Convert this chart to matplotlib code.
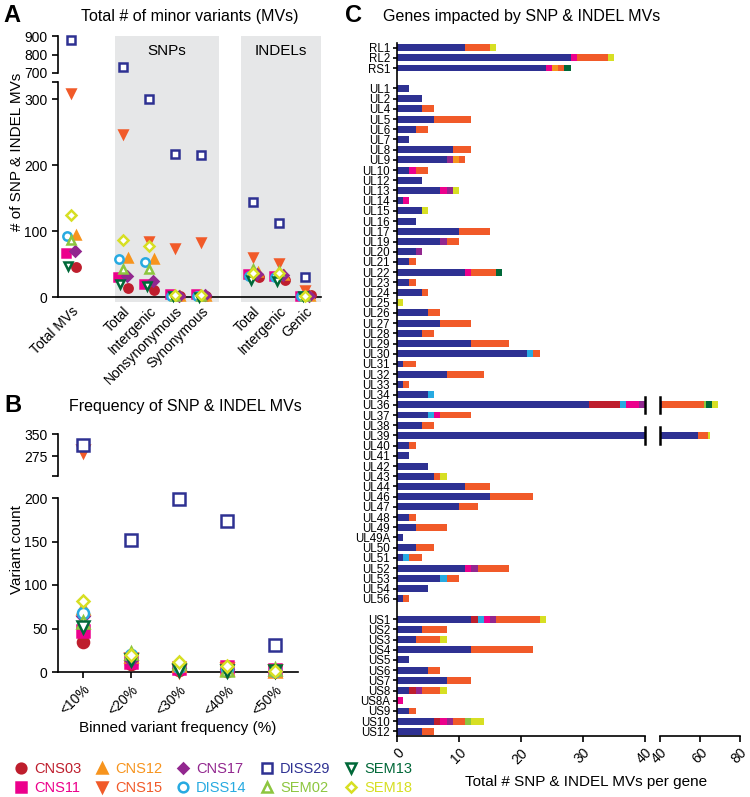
import numpy as np
import matplotlib
matplotlib.use('Agg')
import matplotlib.pyplot as plt
from matplotlib.lines import Line2D

plt.rcParams['font.family'] = ['Liberation Sans', 'DejaVu Sans']
plt.rcParams['axes.linewidth'] = 1.2
plt.rcParams['xtick.major.width'] = 1.2
plt.rcParams['ytick.major.width'] = 1.2

# ---------------- data ----------------
series = ['CNS03', 'CNS11', 'CNS12', 'CNS15', 'CNS17',
          'DISS14', 'DISS29', 'SEM02', 'SEM13', 'SEM18']

# panel A: total # of minor variants per category
a_labels = ['Total MVs', 'Total', 'Intergenic', 'Nonsynonymous', 'Synonymous',
            'Total', 'Intergenic', 'Genic']
a_vals = {
    'CNS03':  [45, 14, 10, 2, 2, 30, 26, 3],
    'CNS11':  [67, 30, 20, 4, 5, 35, 32, 2],
    'CNS12':  [94, 59, 58, 2, 1, 38, 34, 1],
    'CNS15':  [310, 247, 85, 74, 84, 61, 51, 11],
    'CNS17':  [70, 32, 25, 2, 3, 35, 33, 2],
    'DISS14': [92, 57, 53, 1, 1, 32, 30, 2],
    'DISS29': [880, 732, 300, 217, 216, 144, 112, 30],
    'SEM02':  [86, 42, 42, 2, 2, 42, 40, 1],
    'SEM13':  [47, 20, 16, 1, 0, 26, 24, 1],
    'SEM18':  [124, 86, 77, 3, 3, 36, 36, 2],
}

# panel B: variant count per binned frequency
b_bins = ['<10%', '<20%', '<30%', '<40%', '<50%']
b_vals = {
    'CNS03':  [34, 9, 2, 1, 1],
    'CNS11':  [47, 12, 5, 6, 2],
    'CNS12':  [74, 18, 8, 3, 1],
    'CNS15':  [292, 15, 1, 3, 1],
    'CNS17':  [64, 14, 5, 3, 1],
    'DISS14': [68, 20, 6, 3, 1],
    'DISS29': [312, 152, 199, 173, 31],
    'SEM02':  [58, 22, 10, 2, 3],
    'SEM13':  [52, 14, 2, 1, 1],
    'SEM18':  [82, 20, 11, 7, 1],
}

# panel C: MVs per gene
genes_rl = ['RL1', 'RL2', 'RS1']
genes_ul = ['UL1', 'UL2', 'UL4', 'UL5', 'UL6', 'UL7', 'UL8', 'UL9', 'UL10', 'UL12',
            'UL13', 'UL14', 'UL15', 'UL16', 'UL17', 'UL19', 'UL20', 'UL21', 'UL22', 'UL23',
            'UL24', 'UL25', 'UL26', 'UL27', 'UL28', 'UL29', 'UL30', 'UL31', 'UL32', 'UL33',
            'UL34', 'UL36', 'UL37', 'UL38', 'UL39', 'UL40', 'UL41', 'UL42', 'UL43', 'UL44',
            'UL46', 'UL47', 'UL48', 'UL49', 'UL49A', 'UL50', 'UL51', 'UL52', 'UL53', 'UL54',
            'UL56']
genes_us = ['US1', 'US2', 'US3', 'US4', 'US5', 'US6', 'US7', 'US8', 'US8A', 'US9',
            'US10', 'US12']
genes = genes_rl + genes_ul + genes_us

c_diss29 = [11, 28, 24,
            2, 4, 4, 6, 3, 2, 9, 8, 2, 4,
            7, 1, 4, 3, 10, 7, 3, 2, 11, 2,
            4, 0, 5, 7, 4, 12, 21, 1, 8, 1,
            5, 31, 5, 4, 59, 2, 2, 5, 6, 11,
            15, 10, 2, 3, 1, 3, 1, 11, 7, 5,
            1,
            12, 4, 3, 12, 2, 5, 8, 2, 0, 2, 6, 4]
c_cns15 = [4, 5, 1,
           0, 0, 2, 6, 2, 0, 3, 1, 2, 0,
           0, 0, 0, 0, 5, 2, 0, 1, 4, 1,
           1, 0, 2, 5, 2, 6, 1, 2, 6, 1,
           0, 21, 5, 2, 5, 1, 0, 0, 1, 4,
           7, 3, 1, 5, 0, 3, 2, 5, 2, 0,
           1,
           7, 4, 4, 10, 0, 2, 4, 3, 0, 1, 2, 2]
c_cns03 = {'UL36': 5, 'US1': 1, 'US8': 1, 'US10': 1}
c_diss14 = {'UL30': 1, 'UL34': 1, 'UL36': 1, 'UL37': 1, 'UL51': 1, 'UL53': 1, 'US1': 1}
c_cns11 = {'RL2': 1, 'RS1': 1, 'UL10': 1, 'UL13': 1, 'UL14': 1, 'UL22': 1, 'UL36': 2,
           'UL37': 1, 'UL52': 1, 'US1': 1, 'US8A': 1, 'US10': 1}
c_cns17 = {'UL9': 1, 'UL13': 1, 'UL19': 1, 'UL20': 1, 'UL36': 2, 'UL52': 1, 'US1': 1,
           'US8': 1, 'US10': 1}
c_cns12 = {'RS1': 1, 'UL9': 1}
c_sem02 = {'UL36': 1, 'US10': 1}
c_sem13 = {'RS1': 1, 'UL22': 1, 'UL36': 3}
c_sem18 = {'RL1': 1, 'RL2': 1, 'UL13': 1, 'UL15': 1, 'UL25': 1, 'UL36': 3, 'UL39': 1,
           'UL43': 1, 'US1': 1, 'US3': 1, 'US8': 1, 'US10': 2}

# ---------------- styles ----------------
colors = {'CNS03': '#BE1E2D', 'CNS11': '#EC008C', 'CNS12': '#F7941D', 'CNS15': '#F15A29',
          'CNS17': '#92278F', 'DISS14': '#27AAE1', 'DISS29': '#2E3192', 'SEM02': '#8DC63F',
          'SEM13': '#006838', 'SEM18': '#D7DF23'}
markers = {'CNS03': 'o', 'CNS11': 's', 'CNS12': '^', 'CNS15': 'v', 'CNS17': 'D',
           'DISS14': 'o', 'DISS29': 's', 'SEM02': '^', 'SEM13': 'v', 'SEM18': 'D'}
jitter = {'CNS03': 0.2, 'CNS11': -0.2, 'CNS12': 0.18, 'CNS15': 0.0, 'CNS17': 0.15,
          'DISS14': -0.15, 'DISS29': 0.0, 'SEM02': 0.0, 'SEM13': -0.1, 'SEM18': 0.0}


def mkw(s, ms):
    size = ms * 0.8 if markers[s] == 'D' else ms
    filled = s.startswith('CNS')
    return dict(marker=markers[s], ms=size, ls='none', mec=colors[s], mew=1.8,
                mfc=colors[s] if filled else 'white')


W, H = 750, 797
fig = plt.figure(figsize=(7.5, 7.97), dpi=100)


def box(x0, y0, x1, y1):
    return [x0 / W, 1 - y1 / H, (x1 - x0) / W, (y1 - y0) / H]


def clean(ax, keep=('left', 'bottom')):
    for side in ['left', 'right', 'top', 'bottom']:
        ax.spines[side].set_visible(side in keep)
    ax.tick_params(labelsize=10, length=4)


# ---------------- panel A ----------------
a_x = np.array([0, 2, 3, 4, 5, 7, 8, 9])
xlimA = (-0.5, 9.6)
bg = fig.add_axes(box(58, 36, 321, 302))
bg.set_xlim(*xlimA)
bg.axis('off')
bg.axvspan(1.69, 5.69, color='#E6E7E8', lw=0)
bg.axvspan(6.54, 9.6, color='#E6E7E8', lw=0)
bg.text(3.69, 0.944, 'SNPs', transform=bg.get_xaxis_transform(), ha='center', va='center', fontsize=11)
bg.text(8.07, 0.944, 'INDELs', transform=bg.get_xaxis_transform(), ha='center', va='center', fontsize=11)

axA_hi = fig.add_axes(box(58, 36, 321, 73), facecolor='none')
axA_lo = fig.add_axes(box(58, 82, 321, 297), facecolor='none')
for ax in (axA_hi, axA_lo):
    ax.set_xlim(*xlimA)
clean(axA_hi, keep=('left',))
axA_hi.set_ylim(700, 900)
axA_hi.set_yticks([700, 800, 900])
axA_hi.set_xticks([])
clean(axA_lo)
axA_lo.set_ylim(0, 326)
axA_lo.set_yticks([0, 100, 200, 300, 326], labels=['0', '100', '200', '300', ''])
axA_lo.set_xticks(a_x)
axA_lo.set_xticklabels(a_labels, rotation=45, ha='right', rotation_mode='anchor')
axA_lo.tick_params(axis='x', length=0, pad=5)

for s in series:
    v = np.array(a_vals[s], dtype=float)
    x = a_x + jitter[s]
    hi = v >= 600
    axA_hi.plot(x[hi], v[hi], clip_on=False, zorder=3, **mkw(s, 6))
    axA_lo.plot(x[~hi], v[~hi], clip_on=False, zorder=3, **mkw(s, 6))

fig.text(17 / W, 1 - 152 / H, '# of SNP & INDEL MVs', rotation=90, ha='center', va='center', fontsize=11)
fig.text(190 / W, 1 - 17 / H, 'Total # of minor variants (MVs)', ha='center', va='center', fontsize=11.5)
fig.text(12 / W, 1 - 16 / H, 'A', ha='center', va='center', fontsize=17, fontweight='bold')

# ---------------- panel B ----------------
b_x = np.arange(len(b_bins))
xlimB = (-0.52, 4.48)
axB_hi = fig.add_axes(box(58, 434, 298, 476), facecolor='none')
axB_lo = fig.add_axes(box(58, 498, 298, 672), facecolor='none')
for ax in (axB_hi, axB_lo):
    ax.set_xlim(*xlimB)
clean(axB_hi, keep=('left',))
axB_hi.set_ylim(207, 350)
axB_hi.set_yticks([207, 275, 350], labels=['', '275', '350'])
axB_hi.set_xticks([])
clean(axB_lo)
axB_lo.set_ylim(0, 200)
axB_lo.set_yticks([0, 50, 100, 150, 200])
axB_lo.set_xticks(b_x)
axB_lo.set_xticklabels(b_bins, rotation=45, ha='right', rotation_mode='anchor')

for s in series:
    v = np.array(b_vals[s], dtype=float)
    hi = v >= 205
    axB_hi.plot(b_x[hi], v[hi], clip_on=False, zorder=3, **mkw(s, 8))
    axB_lo.plot(b_x[~hi], v[~hi], clip_on=False, zorder=3, **mkw(s, 8))

fig.text(17 / W, 1 - 550 / H, 'Variant count', rotation=90, ha='center', va='center', fontsize=11)
fig.text(185 / W, 1 - 407 / H, 'Frequency of SNP & INDEL MVs', ha='center', va='center', fontsize=11.5)
fig.text(178 / W, 1 - 728 / H, 'Binned variant frequency (%)', ha='center', va='center', fontsize=11)
fig.text(13 / W, 1 - 406 / H, 'B', ha='center', va='center', fontsize=17, fontweight='bold')

# ---------------- panel C ----------------
ypos = np.concatenate([np.arange(0, 3), np.arange(4, 55), np.arange(56, 68)])
stack = [
    ('DISS29', np.array(c_diss29, dtype=float)),
    ('CNS03', np.array([c_cns03.get(g, 0) for g in genes], dtype=float)),
    ('DISS14', np.array([c_diss14.get(g, 0) for g in genes], dtype=float)),
    ('CNS11', np.array([c_cns11.get(g, 0) for g in genes], dtype=float)),
    ('CNS17', np.array([c_cns17.get(g, 0) for g in genes], dtype=float)),
    ('CNS12', np.array([c_cns12.get(g, 0) for g in genes], dtype=float)),
    ('CNS15', np.array(c_cns15, dtype=float)),
    ('SEM02', np.array([c_sem02.get(g, 0) for g in genes], dtype=float)),
    ('SEM13', np.array([c_sem13.get(g, 0) for g in genes], dtype=float)),
    ('SEM18', np.array([c_sem18.get(g, 0) for g in genes], dtype=float)),
]

axC1 = fig.add_axes(box(397, 43, 645, 736))
axC2 = fig.add_axes(box(660, 43, 740, 736))
for ax in (axC1, axC2):
    left = np.zeros(len(genes))
    for s, v in stack:
        ax.barh(ypos, v, left=left, height=0.68, color=colors[s], lw=0)
        left += v
    ax.set_ylim(67.45, -0.45)
total = left

clean(axC1)
axC1.set_xlim(0, 40)
axC1.set_xticks([0, 10, 20, 30, 40])
axC1.set_yticks(ypos)
axC1.set_yticklabels(genes, fontsize=8.3)
axC1.tick_params(axis='y', length=3, pad=2)
clean(axC2, keep=('bottom',))
axC2.set_xlim(40, 80)
axC2.set_xticks([40, 60, 80])
axC2.set_yticks([])
for ax in (axC1, axC2):
    ax.set_xticklabels([str(int(t)) for t in ax.get_xticks()], rotation=45, ha='right',
                       rotation_mode='anchor')
    ax.tick_params(axis='x', pad=3)
    for y, t in zip(ypos, total):
        if t > 40:
            ax.plot([40, 40], [y - 0.8, y + 0.8], color='black', lw=1.8, clip_on=False)

fig.text(586 / W, 1 - 782 / H, 'Total # SNP & INDEL MVs per gene', ha='center', va='center', fontsize=11)
fig.text(522 / W, 1 - 17 / H, 'Genes impacted by SNP & INDEL MVs', ha='center', va='center', fontsize=11.5)
fig.text(354 / W, 1 - 16 / H, 'C', ha='center', va='center', fontsize=17, fontweight='bold')

# ---------------- legend ----------------
handles = [Line2D([], [], **mkw(s, 7)) for s in series]
fig.legend(handles, series, ncol=5, loc='lower left', bbox_to_anchor=(14 / W, 2 / H),
           frameon=False, fontsize=10.5, labelcolor=[colors[s] for s in series],
           handlelength=1.0, handletextpad=0.4, columnspacing=0.9, labelspacing=0.35,
           borderpad=0, borderaxespad=0)

fig.savefig('out.png', dpi=100)
